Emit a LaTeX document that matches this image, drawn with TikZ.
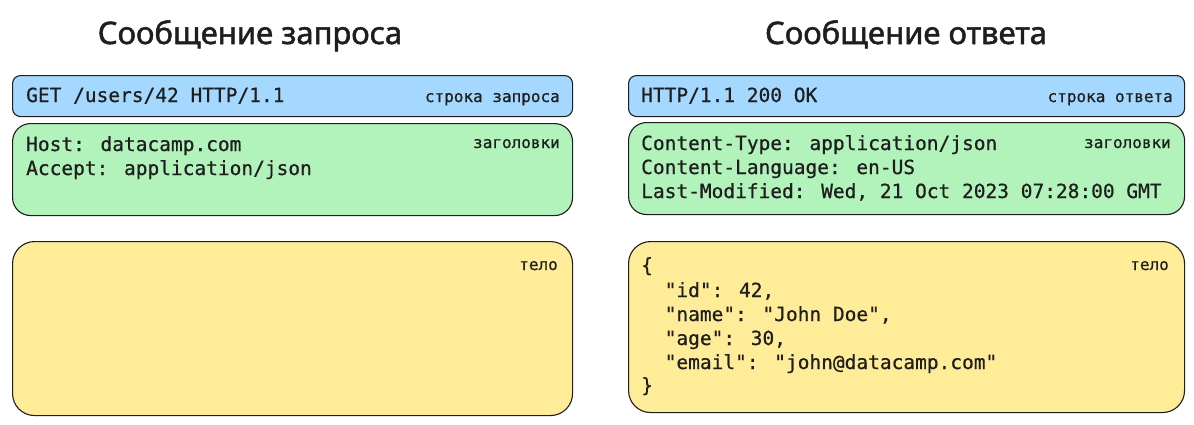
\documentclass[tikz,border=0pt]{standalone}
\usepackage{fontspec}
\setmainfont{Noto Sans}
\setmonofont{DejaVu Sans Mono}
\newfontfamily\codefont{DejaVu Sans Mono}[FakeBold=0.6]
\newfontfamily\headfont{Noto Sans}[FakeBold=1.6]
\definecolor{boxblue}{HTML}{A5D8FF}
\definecolor{boxgreen}{HTML}{B2F2BB}
\definecolor{boxyellow}{HTML}{FFEC99}
\definecolor{ink}{HTML}{1E1E1E}
\begin{document}
\begin{tikzpicture}[x=1pt,y=-1pt,
  panel/.style={draw=ink, line width=1.1pt, anchor=north west, inner sep=0pt},
  linebox/.style={panel, fill=boxblue, rounded corners=8pt},
  headbox/.style={panel, fill=boxgreen, rounded corners=18pt},
  bodybox/.style={panel, fill=boxyellow, rounded corners=22pt},
  code/.style={anchor=base west, inner sep=0pt, text=ink, font=\codefont\fontsize{19.5}{24}\selectfont},
  tag/.style={anchor=base east, inner sep=0pt, text=ink, font=\codefont\fontsize{16}{19}\selectfont},
  heading/.style={anchor=base, inner sep=0pt, text=ink, font=\headfont\fontsize{31}{36}\selectfont}]
\useasboundingbox[fill=white] (0,0) rectangle (1194,424);

% titles
\node[heading] (t1) at (250,44) {Сообщение запроса};
\node[heading] (t2) at (906,44) {Сообщение ответа};

% left column (request)
\node[linebox, minimum width=560pt, minimum height=41pt] (reqline) at (12,75) {};
\node[headbox, minimum width=560pt, minimum height=92pt] (reqhead) at (12,123) {};
\node[bodybox, minimum width=560pt, minimum height=174pt] (reqbody) at (12,241) {};

\node[code] (rl1) at (26,102) {GET /users/42 HTTP/1.1};
\node[tag] (rlt) at (560,102) {строка запроса};
\node[code] (rh1) at (26,151) {Host: datacamp.com};
\node[code] (rh2) at (26,175) {Accept: application/json};
\node[tag] (rht) at (560,148) {заголовки};
\node[tag] (rbt) at (558,270) {тело};

% right column (response)
\node[linebox, minimum width=556pt, minimum height=41pt] (resline) at (628,75) {};
\node[headbox, minimum width=556pt, minimum height=92pt] (reshead) at (628,122) {};
\node[bodybox, minimum width=556pt, minimum height=171pt] (resbody) at (628,241) {};

\node[code] (sl1) at (641,102) {HTTP/1.1 200 OK};
\node[tag] (slt) at (1173,102) {строка ответа};
\node[code] (sh1) at (641,150) {Content-Type: application/json};
\node[code] (sh2) at (641,174) {Content-Language: en-US};
\node[code] (sh3) at (641,198) {Last-Modified: Wed, 21 Oct 2023 07:28:00 GMT};
\node[tag] (sht) at (1171,148) {заголовки};
\node[tag] (sbt) at (1169,270) {тело};

\node[code] (j0) at (641,272) {\{};
\node[code] (j1) at (664.5,297) {"id": 42,};
\node[code] (j2) at (664.5,321) {"name": "John Doe",};
\node[code] (j3) at (664.5,345) {"age": 30,};
\node[code] (j4) at (664.5,369) {"email": "john@datacamp.com"};
\node[code] (j5) at (641,392) {\}};
\end{tikzpicture}
\end{document}
